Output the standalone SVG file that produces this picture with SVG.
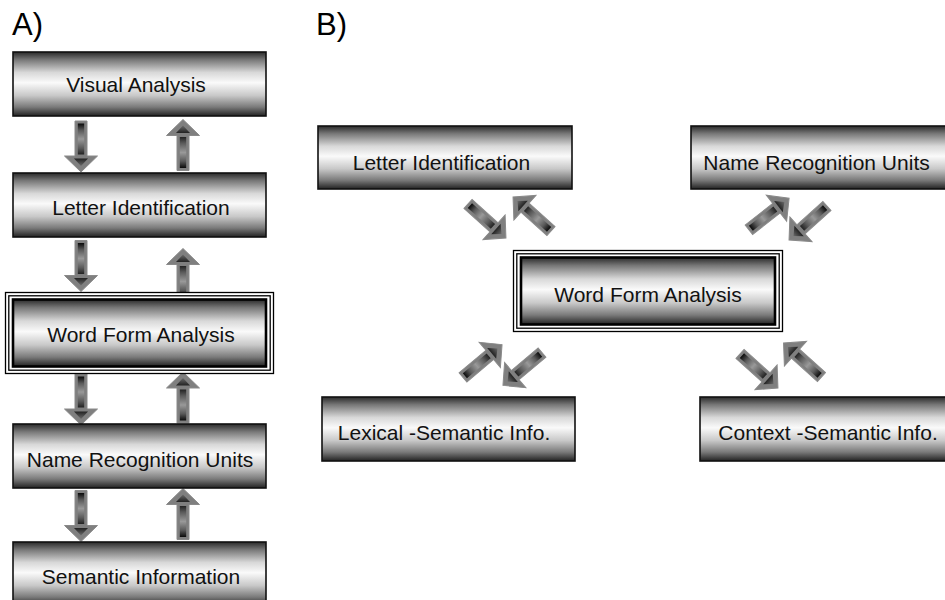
<svg xmlns="http://www.w3.org/2000/svg" xmlns:xlink="http://www.w3.org/1999/xlink" width="945" height="600" viewBox="0 0 945 600">
<style>
.box{fill:url(#boxG);stroke:#111;stroke-width:1.6}
.thick{fill:url(#boxG);stroke:#000;stroke-width:2.6}
.frame{fill:#fff;stroke:#000;stroke-width:1.3}
.frame2{fill:none;stroke:#000;stroke-width:1.3}
.t{font-family:"Liberation Sans",Arial,sans-serif;font-size:21px;fill:#111;text-anchor:middle}
.lbl{font-family:"Liberation Sans",Arial,sans-serif;font-size:31px;fill:#000}
</style>
<defs>
<linearGradient id="boxG" x1="0" y1="0" x2="0" y2="1">
<stop offset="0" stop-color="#2a2a2a"/>
<stop offset="0.12" stop-color="#777"/>
<stop offset="0.32" stop-color="#d8d8d8"/>
<stop offset="0.48" stop-color="#fafafa"/>
<stop offset="0.68" stop-color="#c8c8c8"/>
<stop offset="0.86" stop-color="#7a7a7a"/>
<stop offset="1" stop-color="#222"/>
</linearGradient>
<linearGradient id="shaftG" x1="0" y1="0" x2="0" y2="1">
<stop offset="0" stop-color="#0a0a0a"/>
<stop offset="0.22" stop-color="#5a5a5a"/>
<stop offset="0.5" stop-color="#999"/>
<stop offset="0.8" stop-color="#5a5a5a"/>
<stop offset="1" stop-color="#222"/>
</linearGradient>
<linearGradient id="headG" x1="0" y1="0" x2="0" y2="1">
<stop offset="0" stop-color="#222"/>
<stop offset="1" stop-color="#6a6a6a"/>
</linearGradient>
<g id="arr">
<polygon points="-6,-25.5 6,-25.5 6,9.5 16.5,9.5 0,25.5 -16.5,9.5 -6,9.5" fill="#7f7f7f" stroke="#8a8a8a" stroke-width="1"/>
<rect x="-3.2" y="-23" width="6.4" height="31" fill="url(#shaftG)"/>
<polygon points="-7,12 7,12 0,19.5" fill="url(#headG)"/>
</g>
</defs>
<rect width="945" height="600" fill="#fff"/>
<text class="lbl" x="12" y="35">A)</text>
<text class="lbl" x="316" y="35">B)</text>
<g id="connectors">
<use xlink:href="#arr" transform="translate(81,146.5)"/>
<use xlink:href="#arr" transform="translate(183,145) rotate(180)"/>
<use xlink:href="#arr" transform="translate(81,266)"/>
<use xlink:href="#arr" transform="translate(183,274) rotate(180)"/>
<use xlink:href="#arr" transform="translate(81,399.5)"/>
<use xlink:href="#arr" transform="translate(183,397.5) rotate(180)"/>
<use xlink:href="#arr" transform="translate(81,516)"/>
<use xlink:href="#arr" transform="translate(183,514) rotate(180)"/>
<use xlink:href="#arr" transform="translate(487,221) rotate(-48)"/>
<use xlink:href="#arr" transform="translate(532,214) rotate(132)"/>
<use xlink:href="#arr" transform="translate(769,214) rotate(-128)"/>
<use xlink:href="#arr" transform="translate(808,223) rotate(48)"/>
<use xlink:href="#arr" transform="translate(482.5,361) rotate(-130)"/>
<use xlink:href="#arr" transform="translate(522.5,369) rotate(50)"/>
<use xlink:href="#arr" transform="translate(759,371) rotate(-48)"/>
<use xlink:href="#arr" transform="translate(802.5,360) rotate(132)"/>
</g>
<g id="a-visual">
<rect class="box" x="13" y="52" width="253" height="64"/>
<text class="t" x="136" y="92">Visual Analysis</text>
</g>
<g id="a-letter">
<rect class="box" x="13" y="173" width="253" height="64"/>
<text class="t" x="141" y="215">Letter Identification</text>
</g>
<g id="a-wordform">
<rect class="frame" x="5.5" y="292.5" width="268" height="81"/>
<rect class="frame2" x="8.8" y="295.8" width="261.4" height="74.4"/>
<rect class="thick" x="13" y="299.5" width="253" height="67"/>
<text class="t" x="141" y="342">Word Form Analysis</text>
</g>
<g id="a-name">
<rect class="box" x="13" y="424" width="253" height="64"/>
<text class="t" x="140" y="466.5">Name Recognition Units</text>
</g>
<g id="a-semantic">
<rect class="box" x="13" y="542" width="253" height="64"/>
<text class="t" x="141" y="584">Semantic Information</text>
</g>
<g id="b-letter">
<rect class="box" x="318" y="126" width="254" height="63"/>
<text class="t" x="441.5" y="170">Letter Identification</text>
</g>
<g id="b-name">
<rect class="box" x="691" y="126" width="262" height="63"/>
<text class="t" x="816.5" y="170">Name Recognition Units</text>
</g>
<g id="b-wordform">
<rect class="frame" x="513.5" y="250.5" width="269" height="81"/>
<rect class="frame2" x="516.8" y="253.8" width="262.4" height="74.4"/>
<rect class="thick" x="521" y="257.5" width="254" height="67"/>
<text class="t" x="648" y="302">Word Form Analysis</text>
</g>
<g id="b-lexical">
<rect class="box" x="322" y="397" width="253" height="64"/>
<text class="t" x="444" y="440">Lexical -Semantic Info.</text>
</g>
<g id="b-context">
<rect class="box" x="700" y="397" width="260" height="64"/>
<text class="t" x="828" y="440">Context -Semantic Info.</text>
</g>
</svg>
